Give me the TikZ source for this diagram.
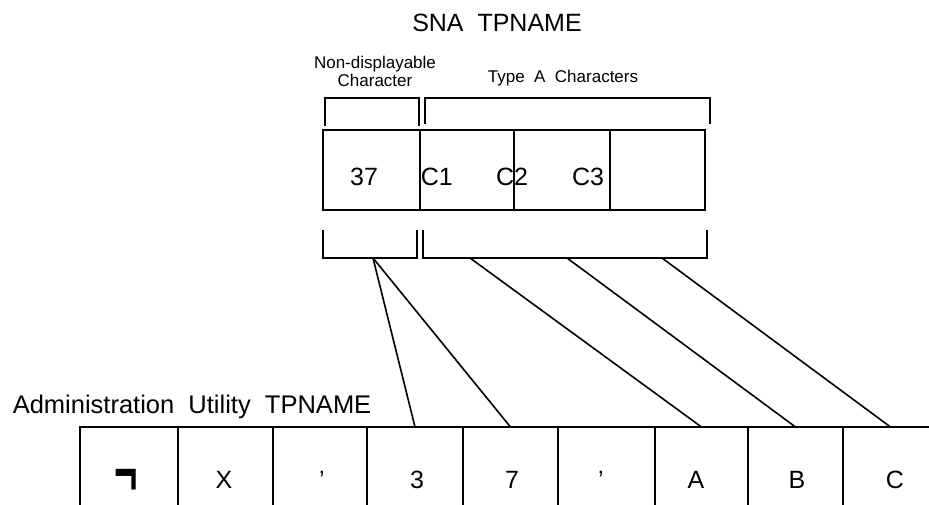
\documentclass[tikz,border=0pt]{standalone}
\usepackage{fontspec}
\setmainfont{Liberation Sans}
\begin{document}
\begin{tikzpicture}[x=1pt,y=-1pt, line width=1.6pt, line join=miter,
  cell/.style={draw, rectangle, inner sep=0pt, outer sep=0pt, minimum height=80pt},
  lowcell/.style={draw, rectangle, inner sep=0pt, outer sep=0pt, minimum height=100pt},
  big/.style={font=\fontsize{25}{30}\selectfont, anchor=base, inner sep=0pt},
  small/.style={font=\fontsize{17}{18}\selectfont, anchor=base, inner sep=0pt},
  link/.style={line width=1.6pt}]
\useasboundingbox (0,0) rectangle (929,504);
\clip (0,0) rectangle (929,504);

% titles
\node[big] (t1) at (497,31) {SNA\ \ TPNAME};
\node[big, anchor=base west, font=\fontsize{25.5}{30}\selectfont] (t2) at (12,413) {Administration\ \ Utility\ \ TPNAME};
\node[small] (l1) at (375,68) {Non-displayable};
\node[small] (l2) at (375,86) {Character};
\node[small] (l3) at (563,82) {Type\ \ A\ \ Characters};

% top brackets
\draw (325,126) -- (325,98) -- (419,98) -- (419,126);
\draw (425,124) -- (425,98) -- (710,98) -- (710,124);

% SNA cells
\node[cell, minimum width=97pt] (s1) at (371.5,170) {};
\node[cell, minimum width=94pt] (s2) at (467,170) {};
\node[cell, minimum width=96pt] (s3) at (562,170) {};
\node[cell, minimum width=95pt] (s4) at (657.5,170) {};
\node[big] (x37) at (364,185) {37};
\node[big, anchor=base west] (xc1) at (420,185) {C1};
\node[big] (xc2) at (512,185) {C2};
\node[big] (xc3) at (588,185) {C3};

% bottom brackets
\draw (323,230) -- (323,258) -- (417,258) -- (417,230);
\draw (423,230) -- (423,258) -- (707,258) -- (707,230);
\coordinate (p0) at (373,258);
\coordinate (p1) at (470,258);
\coordinate (p2) at (567,258);
\coordinate (p3) at (662,258);

% Administration Utility cells
\node[lowcell, minimum width=98pt] (b1) at (129,477) {};
\node[lowcell, minimum width=95pt] (b2) at (225.5,477) {};
\node[lowcell, minimum width=94pt] (b3) at (320,477) {};
\node[lowcell, minimum width=96pt] (b4) at (415,477) {};
\node[lowcell, minimum width=95pt] (b5) at (510.5,477) {};
\node[lowcell, minimum width=97pt] (b6) at (606.5,477) {};
\node[lowcell, minimum width=93pt] (b7) at (701.5,477) {};
\node[lowcell, minimum width=95pt] (b8) at (795.5,477) {};
\node[lowcell, minimum width=95pt] (b9) at (890.5,477) {};

\node[big] (y1) at (126,488) {\raisebox{-6pt}{\scalebox{1.6}[2.6]{\bfseries ¬}}};
\node[big] (y2) at (224,488) {X};
\node[big] (y3) at (322,488) {’};
\node[big] (y4) at (417,488) {3};
\node[big] (y5) at (512,488) {7};
\node[big] (y6) at (601,488) {’};
\node[big] (y7) at (696,488) {A};
\node[big] (y8) at (797,488) {B};
\node[big] (y9) at (895,488) {C};

% connectors
\draw[link] (p0) -- (b4.north);
\draw[link] (p0) -- (b5.north);
\draw[link] (p1) -- (b7.north);
\draw[link] (p2) -- (b8.north);
\draw[link] (p3) -- (b9.north);
\end{tikzpicture}
\end{document}
